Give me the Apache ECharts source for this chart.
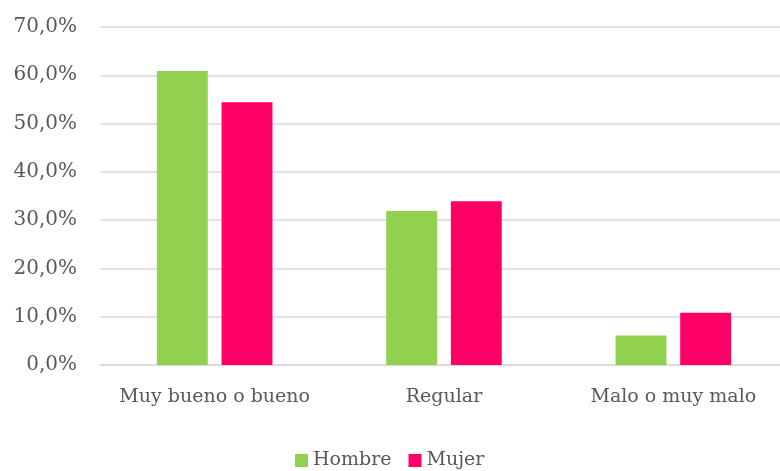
<!DOCTYPE html>
<html>
<head>
<meta charset="utf-8">
<script src="https://cdn.jsdelivr.net/npm/echarts@6/dist/echarts.min.js"></script>
<style>
  html, body { margin: 0; padding: 0; background: #fff; overflow: hidden; }
  #chart { width: 792px; height: 471px; }
</style>
</head>
<body>
<div id="chart"></div>
<script>
// Self-rated health by sex (percent)
const categories = ['Muy bueno o bueno', 'Regular', 'Malo o muy malo'];
const hombre = [60.9, 31.9, 6.1];
const mujer = [54.4, 33.9, 10.8];
const seriesNames = ['Hombre', 'Mujer'];

const FONT = 'DejaVu Serif';
const TEXT = '#595959';

const chart = echarts.init(document.getElementById('chart'));
chart.setOption({
  animation: false,
  textStyle: { fontFamily: FONT },
  grid: { left: 100, right: 4, top: 27, bottom: 106 },
  legend: {
    data: seriesNames,
    top: 446,
    left: 290,
    icon: 'rect',
    itemWidth: 13,
    itemHeight: 13,
    itemGap: 17,
    textStyle: { fontFamily: FONT, fontSize: 19, color: TEXT }
  },
  xAxis: {
    type: 'category',
    data: categories,
    axisLine: { lineStyle: { color: '#d9d9d9', width: 1.5 } },
    axisTick: { show: false },
    axisLabel: { fontFamily: FONT, fontSize: 19, color: TEXT, margin: 23, interval: 0 }
  },
  yAxis: {
    type: 'value',
    min: 0,
    max: 70,
    interval: 10,
    axisLine: { show: false },
    axisTick: { show: false },
    splitLine: { lineStyle: { color: '#d9d9d9', width: 1.5 } },
    axisLabel: {
      fontFamily: FONT, fontSize: 20, color: TEXT, margin: 23,
      formatter: v => v.toFixed(1).replace('.', ',') + '%'
    }
  },
  series: [
    {
      name: seriesNames[0], type: 'bar', data: hombre,
      barWidth: '22.2%', barGap: '27%',
      itemStyle: { color: '#92d050' }
    },
    {
      name: seriesNames[1], type: 'bar', data: mujer,
      barWidth: '22.2%',
      itemStyle: { color: '#ff0066' }
    }
  ]
});
</script>
</body>
</html>
